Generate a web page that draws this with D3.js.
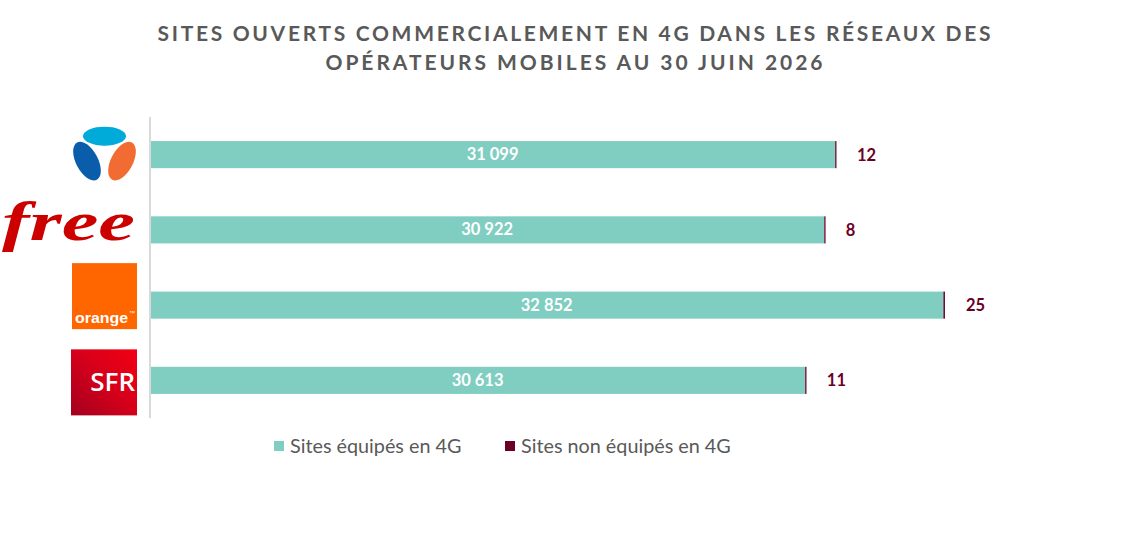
<!DOCTYPE html>
<html>
<head>
<meta charset="utf-8">
<script src="https://cdn.jsdelivr.net/npm/d3@7"></script>
<style>
  body { margin: 0; background: #fff; }
  svg { display: block; }
</style>
</head>
<body>
<div id="chart"></div>
<script>
// data
const operators = ["Bouygues Telecom", "Free Mobile", "Orange", "SFR"];
const equipped = [31099, 30922, 32852, 30613];
const notEquipped = [12, 8, 25, 11];
const seriesNames = ["Sites équipés en 4G", "Sites non équipés en 4G"];
const titleLines = [
  "SITES OUVERTS COMMERCIALEMENT EN 4G DANS LES RÉSEAUX DES",
  "OPÉRATEURS MOBILES AU 30 JUIN 2026"
];

document.addEventListener('DOMContentLoaded', function () {
  const width = 1139;
  const height = 535;
  const teal = "#80cec1";
  const wine = "#6b0026";
  const grey = "#595959";
  const fmt = v => d3.format(",")(v).replace(/,/g, " ");

  const svg = d3.select("#chart")
    .append("svg")
    .attr("width", width)
    .attr("height", height);

  // title
  svg.selectAll(".title")
    .data(titleLines)
    .enter()
    .append("text")
    .attr("class", "title")
    .attr("x", 574)
    .attr("y", (d, i) => 41 + i * 29)
    .attr("text-anchor", "middle")
    .attr("textLength", (d, i) => i === 0 ? 833 : 497)
    .attr("lengthAdjust", "spacing")
    .attr("font-family", "Lato, 'Open Sans', sans-serif")
    .attr("font-weight", "bold")
    .attr("font-size", 21)
    .attr("fill", grey)
    .text(d => d);

  // scales (value axis starts at 20 000 in the original)
  const x = d3.scaleLinear()
    .domain([20000, 35000])
    .range([150, 1076]);

  const y = d3.scaleBand()
    .domain(operators)
    .range([117, 418])
    .paddingInner(0.64)
    .paddingOuter(0.32);

  const rows = operators.map((op, i) => ({
    op: op, a: equipped[i], b: notEquipped[i]
  }));

  // category axis line
  svg.append("line")
    .attr("x1", x(20000)).attr("x2", x(20000))
    .attr("y1", 117).attr("y2", 418)
    .attr("stroke", "#d9d9d9")
    .attr("stroke-width", 2);

  // equipped bars
  svg.selectAll(".bar")
    .data(rows)
    .enter()
    .append("rect")
    .attr("class", "bar")
    .attr("x", x(20000) + 1)
    .attr("y", d => y(d.op))
    .attr("width", d => x(d.a) - x(20000) - 1)
    .attr("height", y.bandwidth())
    .attr("fill", teal);

  // non-equipped segments (very thin)
  svg.selectAll(".seg")
    .data(rows)
    .enter()
    .append("rect")
    .attr("class", "seg")
    .attr("x", d => x(d.a))
    .attr("y", d => y(d.op))
    .attr("width", d => Math.max(1.3, x(d.a + d.b) - x(d.a)))
    .attr("height", y.bandwidth())
    .attr("fill", wine);

  // labels inside bars
  svg.selectAll(".lblIn")
    .data(rows)
    .enter()
    .append("text")
    .attr("class", "lblIn")
    .attr("x", d => (x(20000) + x(d.a)) / 2)
    .attr("y", d => y(d.op) + y.bandwidth() / 2 + 5.5)
    .attr("text-anchor", "middle")
    .attr("font-family", "Lato, sans-serif")
    .attr("font-weight", "bold")
    .attr("font-size", 16.5)
    .attr("fill", "#fff")
    .text(d => fmt(d.a));

  // labels after bars
  svg.selectAll(".lblOut")
    .data(rows)
    .enter()
    .append("text")
    .attr("class", "lblOut")
    .attr("x", d => x(d.a + d.b) + 21)
    .attr("y", d => y(d.op) + y.bandwidth() / 2 + 6)
    .attr("font-family", "Lato, sans-serif")
    .attr("font-weight", "bold")
    .attr("font-size", 16.5)
    .attr("fill", wine)
    .text(d => d.b);

  // logos
  const logo = op => y(op) + y.bandwidth() / 2;

  // Bouygues
  const by = svg.append("g").attr("transform", `translate(104.5, ${logo(operators[0]) - 18.5})`);
  by.append("ellipse").attr("rx", 21.5).attr("ry", 9.5).attr("fill", "#00aad9");
  by.append("ellipse").attr("rx", 11).attr("ry", 21)
    .attr("transform", "translate(-17.5,25) rotate(-28)").attr("fill", "#0a5dab");
  by.append("ellipse").attr("rx", 11).attr("ry", 21)
    .attr("transform", "translate(17.5,25) rotate(28)").attr("fill", "#f26b32");

  // Free
  svg.append("text")
    .attr("x", 2)
    .attr("y", logo(operators[1]) + 10)
    .attr("textLength", 133)
    .attr("lengthAdjust", "spacingAndGlyphs")
    .attr("font-family", "'Liberation Serif', serif")
    .attr("font-style", "italic")
    .attr("font-weight", "bold")
    .attr("font-size", 54)
    .attr("fill", "#cd0000")
    .text("free");

  // Orange
  const oy = logo(operators[2]);
  svg.append("rect")
    .attr("x", 72).attr("y", oy - 42).attr("width", 65).attr("height", 66)
    .attr("fill", "#ff6600");
  svg.append("text")
    .attr("x", 75).attr("y", oy + 18)
    .attr("textLength", 53)
    .attr("lengthAdjust", "spacingAndGlyphs")
    .attr("font-family", "'Liberation Sans', Arial, sans-serif")
    .attr("font-weight", "bold")
    .attr("font-size", 15)
    .attr("fill", "#fff")
    .text("orange");
  svg.append("text")
    .attr("x", 129).attr("y", oy + 10)
    .attr("font-family", "'Liberation Sans', Arial, sans-serif")
    .attr("font-size", 6)
    .attr("fill", "#fff")
    .text("™");

  // SFR
  const sy = logo(operators[3]);
  const grad = svg.append("defs").append("linearGradient")
    .attr("id", "sfrGrad")
    .attr("x1", "0%").attr("y1", "100%").attr("x2", "100%").attr("y2", "0%");
  grad.append("stop").attr("offset", "0%").attr("stop-color", "#a3001f");
  grad.append("stop").attr("offset", "55%").attr("stop-color", "#d8001a");
  grad.append("stop").attr("offset", "100%").attr("stop-color", "#f20012");
  svg.append("rect")
    .attr("x", 71).attr("y", sy - 31).attr("width", 66).attr("height", 66)
    .attr("fill", "url(#sfrGrad)");
  svg.append("text")
    .attr("x", 135).attr("y", sy + 11)
    .attr("text-anchor", "end")
    .attr("font-family", "'Open Sans', sans-serif")
    .attr("font-weight", 600)
    .attr("font-size", 26)
    .attr("fill", "#fff")
    .text("SFR");

  // legend
  const legend = svg.selectAll(".legend")
    .data(seriesNames)
    .enter()
    .append("g")
    .attr("class", "legend")
    .attr("transform", (d, i) => `translate(${i === 0 ? 274 : 505}, 441)`);

  legend.append("rect")
    .attr("width", 10).attr("height", 10)
    .attr("fill", (d, i) => i === 0 ? teal : wine);

  legend.append("text")
    .attr("x", 16).attr("y", 11.5)
    .attr("font-family", "Lato, sans-serif")
    .attr("font-size", 19.8)
    .attr("fill", grey)
    .text(d => d);
});
</script>
</body>
</html>
